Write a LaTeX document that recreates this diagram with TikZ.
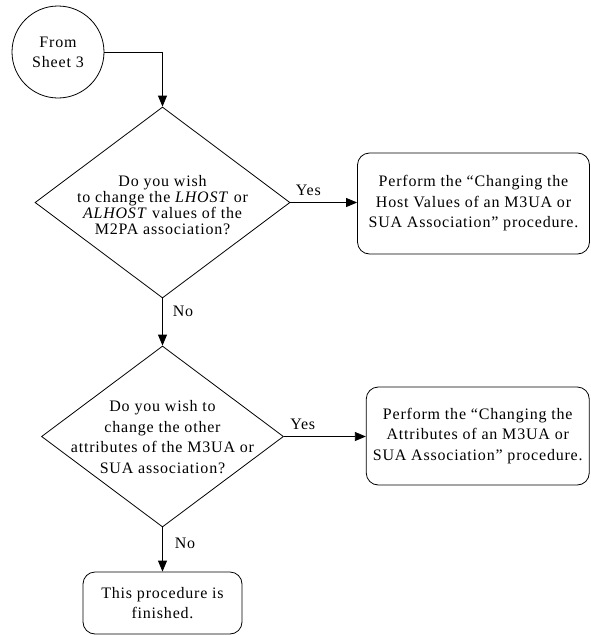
\documentclass[tikz,border=0pt]{standalone}
\usepackage{fontspec}
\setmainfont{Liberation Serif}[LetterSpace=5]
\usetikzlibrary{shapes.geometric,arrows.meta}
\begin{document}
\begin{tikzpicture}[x=1pt,y=-1pt,
  every node/.style={font=\fontsize{16}{20.5}\selectfont, inner sep=0pt},
  ln/.style={line width=0.8pt},
  arr/.style={ln, -{Triangle[length=11pt,width=9pt]}},
  dia/.style={draw, ln, shape=diamond, inner sep=0pt},
  box/.style={draw, ln, rectangle, rounded corners=12pt, align=center},
  txt/.style={align=center},
  lab/.style={font=\fontsize{16}{20}\selectfont}
]
\useasboundingbox (0,0) rectangle (590,635);

\node[draw, ln, circle, minimum size=92pt, align=center, font=\fontsize{16}{20}\selectfont] (c) at (58,52) {From\\Sheet 3};

\node[dia, minimum width=255pt, minimum height=191pt] (d1) at (162.5,202.5) {};
\node[txt, font=\fontsize{16}{16}\selectfont] (t1) at (162.5,205) {Do you wish\\to change the \textit{LHOST} or\\\textit{ALHOST} values of the\\M2PA association?};

\node[box, minimum width=232pt, minimum height=101pt] (b1) at (473.5,203.5) {Perform the “Changing the\\Host Values of an M3UA or\\SUA Association” procedure.};

\node[dia, minimum width=242pt, minimum height=181pt] (d2) at (162.5,436.5) {};
\node[txt] (t2) at (162.5,437) {Do you wish to\\change the other\\attributes of the M3UA or\\SUA association?};

\node[box, minimum width=223pt, minimum height=98pt] (b2) at (477.75,436) {Perform the “Changing the\\Attributes of an M3UA or\\SUA Association” procedure.};

\node[box, minimum width=159pt, minimum height=62pt] (b3) at (162.5,603) {This procedure is\\finished.};

\draw[arr] (c.east) -| (d1.north);
\draw[arr] (d1.east) -- node[lab, pos=0.27, above=6pt] {Yes} (b1.west |- d1.east);
\draw[arr] (d1.south) -- node[lab, pos=0.27, right=10pt] {No} (d2.north);
\draw[arr] (d2.east) -- node[lab, pos=0.23, above=6pt] {Yes} (b2.west |- d2.east);
\draw[arr] (d2.south) -- node[lab, pos=0.36, right=12pt] {No} (b3.north);
\end{tikzpicture}
\end{document}
